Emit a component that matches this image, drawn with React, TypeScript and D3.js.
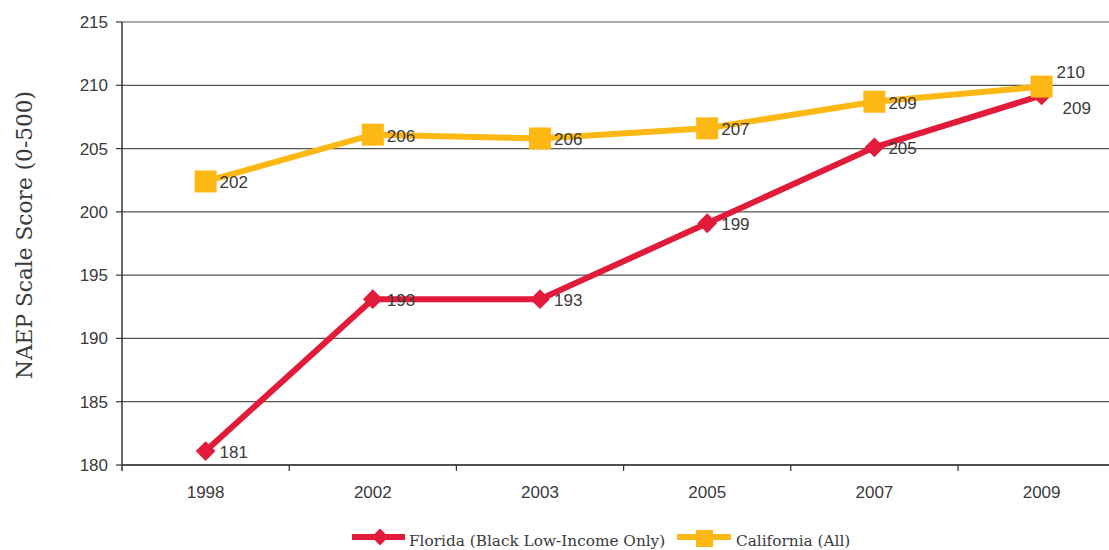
import React from "react";
import * as d3 from "d3";

const years = ["1998", "2002", "2003", "2005", "2007", "2009"];
const florida = [181.1, 193.1, 193.1, 199.1, 205.1, 209.2];
const california = [202.4, 206.1, 205.8, 206.6, 208.7, 209.9];
const floridaLabels = ["181", "193", "193", "199", "205", "209"];
const californiaLabels = ["202", "206", "206", "207", "209", "210"];
const yTicks = [180, 185, 190, 195, 200, 205, 210, 215];

const W = 1109, H = 550;
const left = 122, top = 22, bottom = 465;
const band = 167.2;
const RED = "#E31B3B";
const YEL = "#FDB813";
const FONT = "'Liberation Sans', Arial, sans-serif";
const SERIF = "'DejaVu Serif', serif";
const TXT = "#3a3a3a";
const FS = 17;

export default function App() {
  const x = d3.scaleBand().domain(years).range([left, left + band * years.length]);
  const y = d3.scaleLinear().domain([180, 215]).range([bottom, top]);
  const cx = (d: string) => (x(d) as number) + x.bandwidth() / 2;
  const line = d3.line<number>().x((_, i) => cx(years[i])).y((v) => y(v));

  return (
    <svg width={W} height={H} style={{ position: "absolute", left: 0, top: 0, background: "#fff" }}>
      {yTicks.map((t) => (
        <g key={t}>
          <line x1={left} x2={W} y1={y(t)} y2={y(t)} stroke="#555" strokeWidth={1.2} />
          <line x1={left - 6} x2={left} y1={y(t)} y2={y(t)} stroke="#333" strokeWidth={1.2} />
          <text x={108} y={y(t) + 6} textAnchor="end" fontFamily={FONT} fontSize={FS} fill={TXT}>{t}</text>
        </g>
      ))}
      <line x1={left} x2={left} y1={top} y2={bottom + 6} stroke="#333" strokeWidth={1.5} />
      <line x1={left} x2={W} y1={bottom} y2={bottom} stroke="#333" strokeWidth={1.5} />
      {years.map((yr) => (
        <g key={yr}>
          <line x1={(x(yr) as number) + band} x2={(x(yr) as number) + band} y1={bottom} y2={bottom + 6} stroke="#333" strokeWidth={1.2} />
          <text x={cx(yr)} y={498} textAnchor="middle" fontFamily={FONT} fontSize={FS} fill={TXT}>{yr}</text>
        </g>
      ))}
      <text transform={`translate(32,${235}) rotate(-90)`} textAnchor="middle" fontFamily={SERIF} fontSize={21.7} fill={TXT}>NAEP Scale Score (0-500)</text>

      <path d={line(florida) || ""} fill="none" stroke={RED} strokeWidth={6} />
      {florida.map((v, i) => (
        <rect key={i} x={cx(years[i]) - 7} y={y(v) - 7} width={14} height={14} fill={RED} transform={`rotate(45,${cx(years[i])},${y(v)})`} />
      ))}
      <path d={line(california) || ""} fill="none" stroke={YEL} strokeWidth={6} />
      {california.map((v, i) => (
        <rect key={i} x={cx(years[i]) - 11} y={y(v) - 11} width={22} height={22} fill={YEL} />
      ))}
      {florida.map((v, i) => {
        const last = i === years.length - 1;
        return (
          <text key={i} x={cx(years[i]) + (last ? 21 : 14)} y={y(v) + (last ? 19 : 7)} fontFamily={FONT} fontSize={FS} fill={TXT}>{floridaLabels[i]}</text>
        );
      })}
      {california.map((v, i) => {
        const last = i === years.length - 1;
        return (
          <text key={i} x={cx(years[i]) + (last ? 15 : 14)} y={y(v) + (last ? -9 : 7)} fontFamily={FONT} fontSize={FS} fill={TXT}>{californiaLabels[i]}</text>
        );
      })}

      <g>
        <line x1={352} x2={405} y1={537} y2={537} stroke={RED} strokeWidth={6} />
        <rect x={374} y={531} width={12} height={12} fill={RED} transform="rotate(45,380,537)" />
        <text x={409} y={546} fontFamily={SERIF} fontSize={15.3} fill={TXT}>Florida (Black Low-Income Only)</text>
        <line x1={677} x2={731} y1={537} y2={537} stroke={YEL} strokeWidth={6} />
        <rect x={696} y={530} width={17} height={17} fill={YEL} />
        <text x={736} y={546} fontFamily={SERIF} fontSize={15.3} fill={TXT}>California (All)</text>
      </g>
    </svg>
  );
}
